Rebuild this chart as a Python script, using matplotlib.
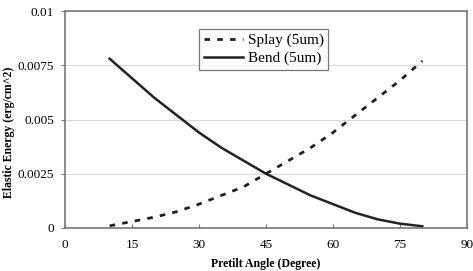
import numpy as np
import matplotlib
matplotlib.use("Agg")
import matplotlib.pyplot as plt

# pretilt angle (degree)
angle = [10, 15, 20, 25, 30, 35, 40, 45, 50, 55, 60, 65, 70, 75, 80]
# elastic energy (erg/cm^2)
splay = [0.0001, 0.0003, 0.0005, 0.00075, 0.0011, 0.0015, 0.0019, 0.0025,
         0.0031, 0.0037, 0.0044, 0.0052, 0.0060, 0.0068, 0.0077]
bend = [0.0078, 0.0069, 0.0060, 0.0052, 0.0044, 0.0037, 0.0031, 0.0025,
        0.0020, 0.0015, 0.0011, 0.0007, 0.0004, 0.0002, 0.00008]

x_ticks = [0, 15, 30, 45, 60, 75, 90]
y_ticks = [0, 0.0025, 0.005, 0.0075, 0.01]
y_labels = ["0", "0.0025", "0.005", "0.0075", "0.01"]

plt.rcParams['font.family'] = ['Liberation Serif', 'DejaVu Serif']

fig = plt.figure(figsize=(4.73, 2.71), dpi=100)
ax = fig.add_axes([65/473, 1 - 228/271, (467-65)/473, (228-11)/271])

ax.plot(angle, splay, color='#222222', lw=2.0, dashes=(2.0, 2.6),
        dash_joinstyle='round', label='Splay (5um)')
ax.plot(angle, bend, color='#222222', lw=1.8, solid_joinstyle='round',
        label='Bend (5um)')

ax.set_xlim(0, 90)
ax.set_ylim(0, 0.01)
ax.set_xticks(x_ticks)
ax.set_yticks(y_ticks)
ax.set_yticklabels(y_labels)
ax.tick_params(axis='both', labelsize=9.5, length=3, color='#777777')
ax.tick_params(axis='x', direction='in', pad=8)
ax.tick_params(axis='y', pad=5)
ax.grid(axis='y', color='#d8d8d8', lw=0.8)
ax.set_axisbelow(True)
for s in ax.spines.values():
    s.set_color('#777777')
    s.set_linewidth(1.2)

ax.set_xlabel('Pretilt Angle (Degree)', fontsize=8.5, fontweight='bold')
ax.set_ylabel('Elastic Energy (erg/cm^2)', fontsize=8.5, fontweight='bold')
ax.xaxis.set_label_coords(0.5, (228-258)/217)
ax.yaxis.set_label_coords((15-65)/402, (228-132)/217)

leg = ax.legend(loc='upper left', bbox_to_anchor=((199-65)/402, (228-29)/217),
                fontsize=11, frameon=True, fancybox=False, handlelength=2.6,
                handletextpad=0.3, borderpad=0.3, labelspacing=0.25, borderaxespad=0)
leg.get_frame().set_edgecolor('#555555')
leg.get_frame().set_linewidth(0.9)

fig.savefig('out.png', dpi=100)
